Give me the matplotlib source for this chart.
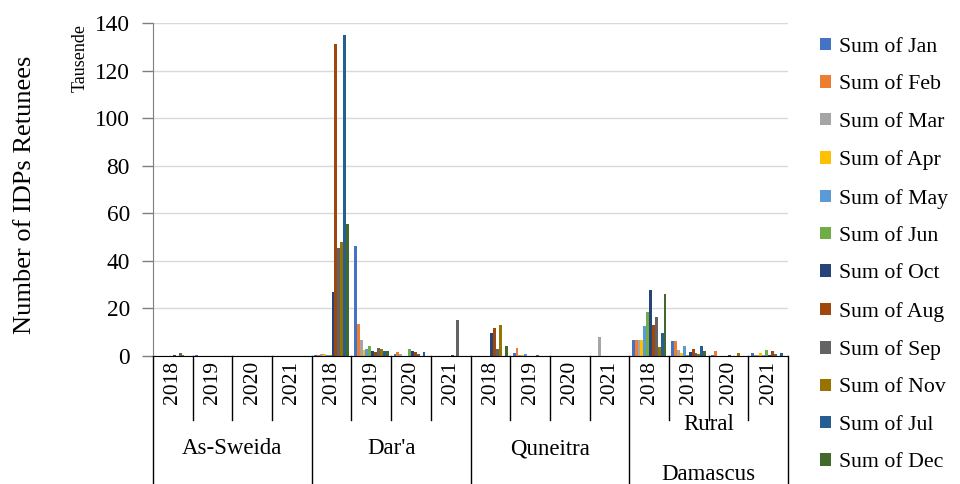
import matplotlib
matplotlib.use("Agg")
import matplotlib.pyplot as plt
from matplotlib.transforms import blended_transform_factory
from matplotlib.patches import Patch
import numpy as np

plt.rcParams['font.family'] = ['Liberation Serif', 'DejaVu Serif']

# Governorates and years forming the two-level category axis
governorates = ["As-Sweida", "Dar'a", "Quneitra", "Rural\nDamascus"]
years = ["2018", "2019", "2020", "2021"]

# Series order as listed in the pivot table
series_names = ["Sum of Jan", "Sum of Feb", "Sum of Mar", "Sum of Apr", "Sum of May",
                "Sum of Jun", "Sum of Oct", "Sum of Aug", "Sum of Sep", "Sum of Nov",
                "Sum of Jul", "Sum of Dec"]
series_colors = ["#4472C4", "#ED7D31", "#A5A5A5", "#FFC000", "#5B9BD5", "#70AD47",
                 "#264478", "#9E480E", "#636363", "#997300", "#255E91", "#43682B"]

# Returnees in thousands; each list: As-Sweida 2018-21, Dar'a 2018-21, Quneitra 2018-21, Rural Damascus 2018-21
jan = [0, 0.3, 0, 0,    0.5, 46.2, 0.8, 0,    0, 1.4, 0, 0,     6.7, 6.4, 0.5, 1.1]
feb = [0, 0, 0, 0,      0.5, 13.4, 1.5, 0,    0, 3.5, 0, 0,     6.7, 6.2, 2.1, 0.5]
mar = [0, 0, 0, 0,      0.7, 6.7, 0.7, 0,     0, 0.3, 0, 8.1,   6.7, 2.5, 0, 0.3]
apr = [0, 0, 0, 0,      0.7, 2.5, 0, 0,       0, 0.3, 0, 0,     6.7, 1.4, 0, 1.4]
may = [0, 0, 0, 0,      0.5, 2.9, 0, 0,       0, 0.8, 0, 0,     12.7, 4.3, 0, 0.5]
jun = [0, 0, 0, 0,      0.3, 4.0, 2.9, 0,     0, 0, 0, 0,       18.5, 0.5, 0, 2.5]
oct_ = [0.4, 0, 0, 0,   27.0, 2.1, 2.0, 0.5,  9.8, 0, 0, 0,     27.7, 1.8, 0.4, 0.5]
aug = [0.2, 0, 0, 0,    131.0, 1.7, 1.8, 0,   11.6, 0, 0, 0,    13.2, 2.8, 0, 2.1]
sep = [1.2, 0, 0, 0,    45.5, 3.5, 1.0, 15.1, 2.8, 0.3, 0, 0,   16.3, 1.4, 0, 0.7]
nov = [0.3, 0, 0, 0,    48.0, 2.9, 0, 0,      12.9, 0, 0, 0,    3.9, 0.8, 1.4, 0]
jul = [0, 0, 0, 0,      135.0, 2.1, 1.8, 0,   0, 0, 0, 0,       9.8, 4.3, 0, 1.4]
dec = [0, 0, 0, 0,      55.5, 2.1, 0, 0,      4.2, 0, 0, 0,     26.2, 2.3, 0, 0]

series_values = [jan, feb, mar, apr, may, jun, oct_, aug, sep, nov, jul, dec]

W, H = 960, 484
fig = plt.figure(figsize=(W / 100, H / 100), dpi=100)
left, right, top, bottom = 153, 788, 23, 356
ax = fig.add_axes([left / W, (H - bottom) / H, (right - left) / W, (bottom - top) / H])

n_groups = len(governorates) * len(years)
n_series = len(series_values)
bar_w = 0.073
start = (1 - n_series * bar_w) / 2
group_x = np.arange(n_groups)

for i, (vals, color) in enumerate(zip(series_values, series_colors)):
    ax.bar(group_x + start + (i + 0.5) * bar_w, vals, width=bar_w, color=color,
           linewidth=0, zorder=3)

ax.set_xlim(0, n_groups)
ax.set_ylim(0, 140)
ax.set_yticks(np.arange(0, 141, 20))
ax.yaxis.grid(True, color="#D9D9D9", linewidth=1)
ax.set_axisbelow(True)
ax.tick_params(axis="y", direction="out", length=8, width=1, color="#7F7F7F",
               labelsize=16.8, pad=8.6)
ax.set_xticks([])
for s in ["top", "right"]:
    ax.spines[s].set_visible(False)
ax.spines["left"].set_color("#7F7F7F")
ax.spines["bottom"].set_color("#000000")
ax.spines["bottom"].set_zorder(4)

# Two-level category axis below the plot
tr = blended_transform_factory(ax.transData, fig.transFigure)
def fy(py):
    return (H - py) / H

for g in range(n_groups):
    ax.text(g + 0.5, fy(382), years[g % len(years)], transform=tr, rotation=90,
            ha="center", va="center", fontsize=15.5)
for b in range(n_groups + 1):
    y_end = 484 if b % len(years) == 0 else 420
    ax.plot([b, b], [fy(bottom), fy(y_end)], transform=tr, color="black",
            linewidth=1, clip_on=False)
for k, name in enumerate(governorates):
    cx = k * len(years) + len(years) / 2
    if "\n" in name:
        first, second = name.split("\n")
        ax.text(cx, fy(424), first, transform=tr, ha="center", va="center", fontsize=16.5)
        ax.text(cx, fy(474), second, transform=tr, ha="center", va="center", fontsize=16.5)
    else:
        ax.text(cx, fy(449), name, transform=tr, ha="center", va="center", fontsize=16.5)

fig.text(80 / W, fy(58), "Tausende", rotation=90, ha="center", va="center", fontsize=13)
fig.text(25 / W, fy(195), "Number of IDPs Retunees", rotation=90, ha="center",
         va="center", fontsize=19)

handles = [Patch(facecolor=c, edgecolor="none") for c in series_colors]
fig.legend(handles, series_names, loc="upper left", bbox_to_anchor=(820 / W, fy(38)),
           frameon=False, fontsize=15.7, handlelength=0.5, handleheight=0.5,
           handletextpad=0.37, labelspacing=0.845, borderaxespad=0, borderpad=0)

fig.savefig("out.png", dpi=100)
